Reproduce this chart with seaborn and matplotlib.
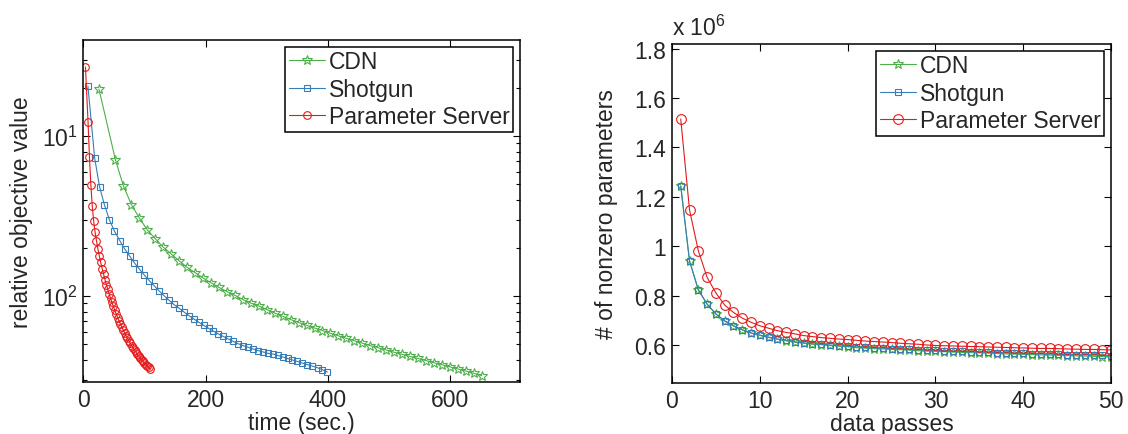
import seaborn as sns
import matplotlib.pyplot as plt
from matplotlib.ticker import FixedLocator, FixedFormatter, LogLocator, NullFormatter, FormatStrFormatter

# left panel: relative objective value vs. time (sec.)
cdn_time = [26, 53, 66, 79, 92, 105, 118, 131, 144, 157, 170, 183, 196, 209, 222, 235,
            248, 261, 274, 287, 300, 313, 326, 339, 352, 365, 378, 391, 404, 417, 430, 443,
            456, 469, 482, 495, 508, 521, 534, 547, 560, 573, 586, 599, 612, 625, 638, 651]
cdn_obj = [0.1967, 0.0708, 0.0487, 0.0373, 0.0307, 0.0259, 0.0228, 0.0202, 0.0183, 0.0166,
           0.0151, 0.0140, 0.01296, 0.01209, 0.01132, 0.01064, 0.01010, 0.00950, 0.00904,
           0.00866, 0.00823, 0.00783, 0.00746, 0.00713, 0.00683, 0.00656, 0.00631, 0.00608,
           0.00585, 0.00564, 0.00544, 0.00525, 0.00507, 0.00490, 0.00475, 0.00460, 0.00445,
           0.00432, 0.00419, 0.00407, 0.00395, 0.00383, 0.00372, 0.00361, 0.00350, 0.00340,
           0.00329, 0.00318]

shotgun_time = [8, 19, 27, 35, 43, 51, 60, 68, 76, 84, 92, 100, 108, 116, 124, 132, 140, 148,
                157, 165, 173, 181, 189, 197, 205, 213, 221, 229, 237, 245, 253, 262, 270, 278,
                286, 294, 302, 310, 318, 326, 334, 342, 350, 358, 366, 374, 383, 391, 399]
shotgun_obj = [0.2054, 0.0729, 0.0482, 0.0371, 0.0300, 0.0256, 0.0222, 0.0197, 0.0178, 0.0161,
               0.01475, 0.01353, 0.01250, 0.01160, 0.01079, 0.01007, 0.00944, 0.00887, 0.00838,
               0.00794, 0.00754, 0.00718, 0.00686, 0.00656, 0.00628, 0.00603, 0.00580, 0.00559,
               0.00539, 0.00521, 0.00504, 0.00489, 0.00478, 0.00466, 0.00456, 0.00447, 0.00438,
               0.00434, 0.00425, 0.00416, 0.00407, 0.00398, 0.00390, 0.00381, 0.00373, 0.00365,
               0.00356, 0.00346, 0.00335]

ps_time = [4, 8.2, 10.5, 12.8, 15.1, 17.4, 19.7, 22.0, 24.3, 26.6, 28.9, 31.2, 33.5, 35.8,
           38.1, 40.4, 42.7, 45.0, 47.3, 49.6, 51.9, 54.2, 56.5, 58.8, 61.1, 63.4, 65.7, 68.0,
           70.3, 72.6, 74.9, 77.2, 79.5, 81.8, 84.1, 86.4, 88.7, 91.0, 93.3, 95.6, 97.9, 100.2,
           102.5, 104.8, 107.1, 109.4]
ps_obj = [0.2700, 0.1223, 0.0739, 0.0494, 0.0365, 0.0294, 0.0251, 0.0221, 0.0197, 0.0178,
          0.0162, 0.01485, 0.01372, 0.01268, 0.01180, 0.01099, 0.01029, 0.00965, 0.00911,
          0.00860, 0.00812, 0.00772, 0.00734, 0.00698, 0.00668, 0.00640, 0.00613, 0.00587,
          0.00565, 0.00544, 0.00525, 0.00507, 0.00490, 0.00475, 0.00460, 0.00446, 0.00433,
          0.00420, 0.00410, 0.00399, 0.00390, 0.00381, 0.00372, 0.00365, 0.00358, 0.00352]

# right panel: nonzero parameters (x 10^6) vs. data passes
passes = list(range(1, 51))
cdn_nnz = [1.244, 0.940, 0.823, 0.765, 0.725, 0.697, 0.677, 0.661, 0.648, 0.639,
           0.631, 0.623, 0.617, 0.611, 0.607, 0.603, 0.601, 0.598, 0.595, 0.593,
           0.589, 0.587, 0.585, 0.584, 0.582, 0.581, 0.579, 0.577, 0.575, 0.574,
           0.573, 0.571, 0.570, 0.569, 0.568, 0.567, 0.565, 0.564, 0.563, 0.562,
           0.561, 0.560, 0.559, 0.558, 0.557, 0.556, 0.555, 0.554, 0.553, 0.552]
shotgun_nnz = [1.244, 0.941, 0.824, 0.766, 0.726, 0.698, 0.678, 0.662, 0.649, 0.640,
               0.632, 0.624, 0.619, 0.613, 0.609, 0.605, 0.603, 0.600, 0.597, 0.595,
               0.592, 0.590, 0.588, 0.587, 0.585, 0.584, 0.582, 0.581, 0.579, 0.578,
               0.577, 0.575, 0.574, 0.573, 0.572, 0.571, 0.569, 0.568, 0.567, 0.566,
               0.565, 0.564, 0.563, 0.562, 0.561, 0.560, 0.560, 0.559, 0.558, 0.557]
ps_nnz = [1.515, 1.147, 0.982, 0.874, 0.811, 0.762, 0.732, 0.709, 0.692, 0.678,
          0.668, 0.658, 0.651, 0.645, 0.638, 0.634, 0.630, 0.627, 0.624, 0.622,
          0.619, 0.616, 0.614, 0.612, 0.610, 0.607, 0.605, 0.603, 0.600, 0.598,
          0.597, 0.596, 0.595, 0.594, 0.593, 0.592, 0.591, 0.590, 0.589, 0.588,
          0.587, 0.586, 0.586, 0.585, 0.584, 0.583, 0.582, 0.582, 0.581, 0.580]

labels = ["CDN", "Shotgun", "Parameter Server"]
colors = ["#4daf4a", "#377eb8", "#e41a1c"]
markers = ["*", "s", "o"]

sns.set_theme(style="ticks")
plt.rcParams['font.family'] = ['Liberation Sans', 'DejaVu Sans']
plt.rcParams['mathtext.fontset'] = 'custom'
plt.rcParams['mathtext.rm'] = 'Liberation Sans'
fs = 16.5

fig = plt.figure(figsize=(11.28, 4.35), dpi=100)
ax1 = fig.add_axes([0.0736, 0.1195, 0.3874, 0.7862])
ax2 = fig.add_axes([0.5957, 0.1172, 0.3893, 0.7794])

left_sets = [(cdn_time, cdn_obj, 7), (shotgun_time, shotgun_obj, 4.4), (ps_time, ps_obj, 5.5)]
for (x, y, ms), lab, c, m in zip(left_sets, labels, colors, markers):
    sns.lineplot(x=x, y=y, ax=ax1, color=c, marker=m, markersize=ms, markerfacecolor='none',
                 markeredgecolor=c, markeredgewidth=0.8, linewidth=0.8, label=lab,
                 estimator=None, sort=False)

right_sets = [(cdn_nnz, 7), (shotgun_nnz, 5), (ps_nnz, 7)]
for (y, ms), lab, c, m in zip(right_sets, labels, colors, markers):
    sns.lineplot(x=passes, y=y, ax=ax2, color=c, marker=m, markersize=ms, markerfacecolor='none',
                 markeredgecolor=c, markeredgewidth=0.8, linewidth=0.8, label=lab,
                 estimator=None, sort=False)

# left axis: log scale, labels shown as in the source figure
ax1.set_yscale('log')
ax1.set_xlim(0, 713.5)
ax1.set_ylim(10 ** -2.5375, 10 ** -0.4)
ax1.yaxis.set_major_locator(FixedLocator([0.1, 0.01]))
ax1.yaxis.set_major_formatter(FixedFormatter([r'$\mathregular{10^1}$', r'$\mathregular{10^2}$']))
ax1.yaxis.set_minor_locator(LogLocator(base=10, subs=range(2, 10)))
ax1.yaxis.set_minor_formatter(NullFormatter())
ax1.set_xticks([0, 200, 400, 600])
ax1.set_xlabel("time (sec.)", fontsize=fs, labelpad=0)
ax1.set_ylabel("relative objective value", fontsize=fs, labelpad=6)

ax2.set_xlim(0, 50)
ax2.set_ylim(0.446, 1.819)
ax2.set_xticks([0, 10, 20, 30, 40, 50])
ax2.set_yticks([0.6, 0.8, 1.0, 1.2, 1.4, 1.6, 1.8])
ax2.yaxis.set_major_formatter(FormatStrFormatter('%g'))
ax2.set_xlabel("data passes", fontsize=fs, labelpad=0)
ax2.set_ylabel("# of nonzero parameters", fontsize=fs, labelpad=12)
ax2.text(0.0, 1.012, r'x $\mathregular{10^6}$', transform=ax2.transAxes, fontsize=fs,
         ha='left', va='bottom')

for ax in (ax1, ax2):
    ax.tick_params(which='both', direction='in', top=True, right=True, labelsize=fs,
                   color='black', pad=4)
    ax.tick_params(which='major', length=5, width=0.8)
    ax.tick_params(which='minor', length=3, width=0.8)
    for sp in ax.spines.values():
        sp.set_color('black')
        sp.set_linewidth(1.1)
    leg = ax.legend(loc='upper right', fontsize=fs, frameon=True, fancybox=False,
                    edgecolor='black', framealpha=1, borderaxespad=0.3, borderpad=0.15,
                    handlelength=1.6, handletextpad=0.15, labelspacing=0.2)
    leg.get_frame().set_linewidth(1.1)

fig.savefig("out.png", dpi=100)
